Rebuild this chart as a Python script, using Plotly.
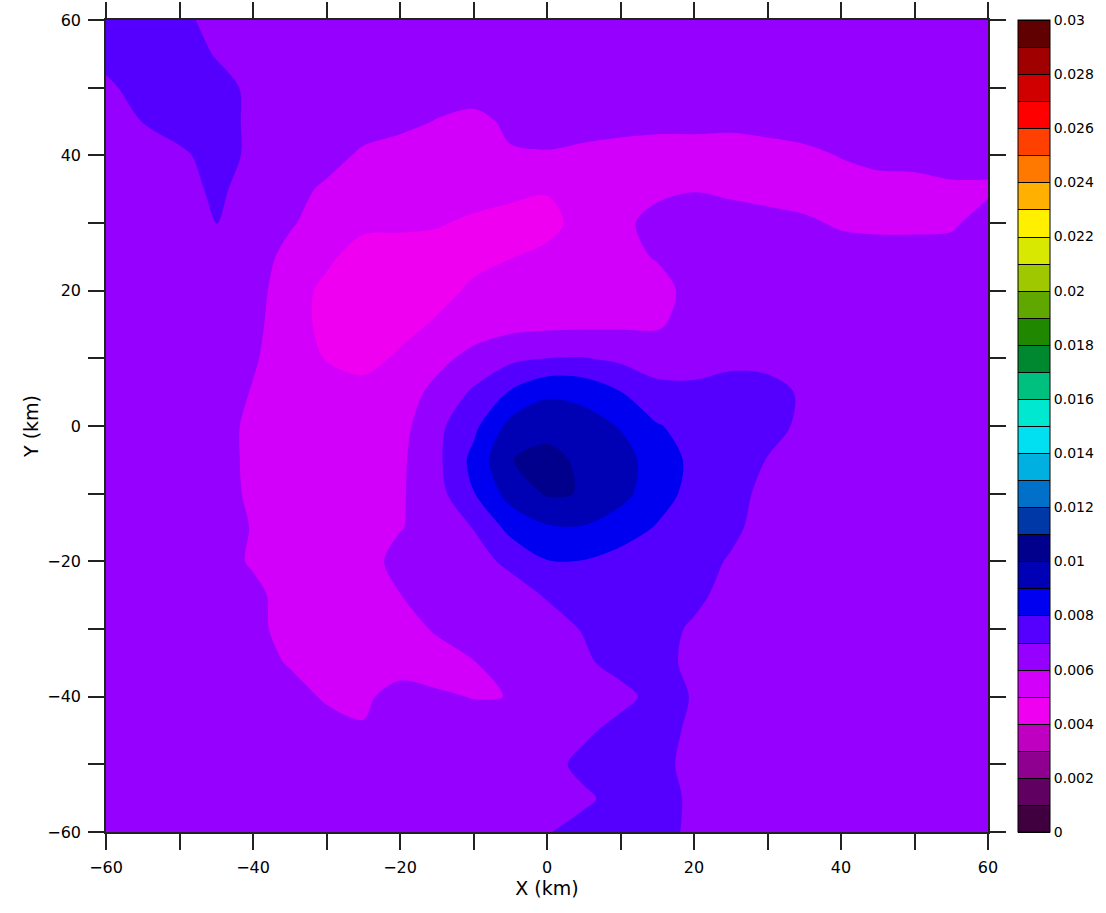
import numpy as np
import plotly.graph_objects as go

# grid coordinates (km)
x_km = list(range(-60, 65, 5))
y_km = list(range(60, -65, -5))          # rows listed top (60) to bottom (-60)

# field values, in units of 1e-4 (kg/kg)
rows = [
    [77, 77, 74, 65, 65, 65, 65, 65, 65, 65, 65, 65, 65, 65, 65, 65, 65, 65, 65, 65, 65, 65, 65, 65, 65],  # 60
    [75, 77, 77, 69, 65, 65, 65, 65, 65, 65, 65, 65, 65, 65, 65, 65, 65, 65, 65, 65, 65, 65, 65, 65, 65],  # 55
    [67, 76, 77, 75, 67, 65, 65, 65, 65, 65, 65, 65, 65, 65, 65, 65, 65, 65, 65, 65, 65, 65, 65, 65, 65],  # 50
    [65, 70.2, 77, 76, 67, 65, 65, 65, 63, 59.5, 57, 62, 65, 65, 64.5, 63, 63, 62.5, 64.5, 65, 65, 65, 65, 65, 65],  # 45
    [65, 65, 67, 76, 67, 65, 64.5, 58, 55, 55, 56.5, 59, 59, 57, 55, 55, 55, 55, 55, 57.5, 60.5, 64, 65, 65, 65],  # 40
    [65, 65, 65, 72.5, 65, 64, 58, 55, 55, 55, 55, 53.6, 51, 54.5, 55, 57.4, 59.5, 57.8, 55, 55, 55, 55, 55, 58, 58],  # 35
    [65, 65, 65, 70.5, 65, 61.2, 55, 52.6, 52, 51, 48, 45, 45.8, 55, 57.2, 64, 65, 65, 64.8, 61.8, 58.6, 57.4, 57.4, 58.2, 65],  # 30
    [65, 65, 65, 65, 65, 56.8, 52.2, 45, 45, 45, 46, 49.6, 53.2, 55, 56, 61, 65, 65, 65, 65, 65, 65, 65, 65, 65],  # 25
    [65, 65, 65, 65, 63.4, 55, 47.4, 45, 45, 45, 52.6, 55, 55, 55, 55, 55, 64.8, 65, 65, 65, 65, 65, 65, 65, 65],  # 20
    [65, 65, 65, 65, 62.2, 55, 47, 45, 45, 51.9, 55, 57, 57.8, 58.2, 58.6, 58.8, 64, 65, 65, 65, 65, 65, 65, 65, 65],  # 15
    [65, 65, 65, 65, 61, 55, 49.5, 45, 52.3, 57.1, 63, 67.8, 70, 70.4, 68, 66, 65, 66.6, 65.6, 65, 65, 65, 65, 65, 65],  # 10
    [65, 65, 65, 65, 59.4, 55, 55, 55, 55, 62.8, 71.4, 80.8, 88.5, 87.2, 80.3, 72.6, 72.8, 75.5, 75, 68, 65, 65, 65, 65, 65],  # 5
    [65, 65, 65, 65, 57.2, 55, 55, 55, 56.6, 67.5, 77.5, 93.1, 95.9, 93.8, 89.4, 80.7, 76.5, 75, 75, 67, 65, 65, 65, 65, 65],  # 0
    [65, 65, 65, 65, 57.2, 55, 55, 55, 58.2, 67.6, 82.8, 99.6, 103.6, 97.5, 93.8, 85.5, 77.6, 75, 69.6, 65, 65, 65, 65, 65, 65],  # -5
    [65, 65, 65, 65, 57.8, 55, 55, 55, 58.8, 66.2, 79.6, 93.8, 101, 99.6, 92.8, 84.7, 76.4, 75, 66.2, 65, 65, 65, 65, 65, 65],  # -10
    [65, 65, 65, 65, 59.4, 55, 55, 55, 59.4, 65, 70.3, 83, 88.9, 89.3, 85.5, 79.2, 75, 72.8, 65, 65, 65, 65, 65, 65, 65],  # -15
    [65, 65, 65, 65, 58.6, 55, 55, 55, 63.8, 65, 66, 72.4, 79.6, 79.6, 76, 75, 75, 68.8, 65, 65, 65, 65, 65, 65, 65],  # -20
    [65, 65, 65, 65, 63, 55, 55, 55, 59.8, 64.4, 65, 65, 71, 75, 75, 75, 73.4, 65, 65, 65, 65, 65, 65, 65, 65],  # -25
    [65, 65, 65, 65, 63.8, 55, 55, 55, 55.2, 61.3, 65, 65, 65, 70.8, 75, 75, 68, 65, 65, 65, 65, 65, 65, 65, 65],  # -30
    [65, 65, 65, 65, 65, 59, 55, 58.2, 55, 55, 59.6, 64, 65, 67.6, 75, 75, 66.2, 65, 65, 65, 65, 65, 65, 65, 65],  # -35
    [65, 65, 65, 65, 65, 65, 58.4, 57.8, 64.6, 61.6, 59.6, 60.1, 65, 65, 65.5, 75, 69.2, 65, 65, 65, 65, 65, 65, 65, 65],  # -40
    [65, 65, 65, 65, 65, 65, 65, 61, 64.5, 65, 65, 65, 65, 67, 75, 75, 67.4, 65, 65, 65, 65, 65, 65, 65, 65],  # -45
    [65, 65, 65, 65, 65, 65, 65, 65, 65, 65, 65, 65, 64.6, 74.2, 75, 74.8, 65, 65, 65, 65, 65, 65, 65, 65, 65],  # -50
    [65, 65, 65, 65, 65, 65, 65, 65, 65, 65, 65, 65, 65, 67.4, 75, 75, 67.6, 65, 65, 65, 65, 65, 65, 65, 65],  # -55
    [65, 65, 65, 65, 65, 65, 65, 65, 65, 65, 65, 65, 69.2, 75, 75, 75, 67, 65, 65, 65, 65, 65, 65, 65, 65],  # -60
]

# contour levels in units of 1e-3 (0 .. 0.03 in steps of 0.001) and palette
level_start, level_end, level_step = 0, 30, 1
band_colors = [
    "#400040", "#600060", "#900090", "#c000c0", "#f000f0",
    "#d200fa", "#9600ff", "#5500ff", "#0000f0", "#0000b4",
    "#00008c", "#0038a8", "#0070c8", "#00b0e0", "#00e0f0",
    "#00e8d0", "#00c080", "#008830", "#208800", "#60a800",
    "#a0c800", "#d8e800", "#fff000", "#ffb000", "#ff7800",
    "#ff4000", "#ff0000", "#d00000", "#a00000", "#600000",
]
cbar_tickvals = [0, 2, 4, 6, 8, 10, 12, 14, 16, 18, 20, 22, 24, 26, 28, 30]
cbar_ticktext = ["0", "0.002", "0.004", "0.006", "0.008", "0.01", "0.012", "0.014",
                 "0.016", "0.018", "0.02", "0.022", "0.024", "0.026", "0.028", "0.03"]
axis_tickvals = list(range(-60, 70, 10))
axis_ticktext = ["\u221260", "", "\u221240", "", "\u221220", "", "0", "", "20", "", "40", "", "60"]

# stepped colour scale: one flat segment per band
n = len(band_colors)
cs = []
for k, c in enumerate(band_colors):
    cs.append([k / n, c])
    cs.append([(k + 1) / n, c])

z = np.array(rows[::-1]) / 10.0          # -> units of 1e-3
y_asc = y_km[::-1]

contours = dict(start=level_start, end=level_end, size=level_step, coloring="fill")

fig = go.Figure()
fig.add_trace(go.Contour(
    x=x_km, y=y_asc, z=z, autocontour=False, zmin=0, zmax=30,
    contours=dict(contours, showlines=False),
    colorscale=cs, showscale=False, line=dict(smoothing=0.9, width=0),
    hoverinfo="skip",
))
# colour bar carrier (lies outside the visible axis range)
fig.add_trace(go.Contour(
    x=[200, 201], y=[200, 201], z=[[0, 30], [30, 0]], autocontour=False,
    zmin=0, zmax=30,
    contours=dict(contours, showlines=True),
    colorscale=cs, line=dict(color="black", width=1),
    showscale=True, hoverinfo="skip",
    colorbar=dict(
        x=1 + 30 / 882, xanchor="left", y=0.5, yanchor="middle",
        len=1, lenmode="fraction", thickness=32, xpad=0, ypad=0,
        outlinewidth=1, outlinecolor="black",
        tickvals=cbar_tickvals, ticktext=cbar_ticktext, ticks="",
        tickfont=dict(family="DejaVu Sans", size=14, color="black"),
        ticklabelposition="outside",
    ),
))

axis_common = dict(
    tickvals=axis_tickvals, ticktext=axis_ticktext,
    ticks="outside", ticklen=16, tickwidth=1.5, tickcolor="#222",
    showline=True, linecolor="#222", linewidth=1.5, mirror="ticks",
    showgrid=False, zeroline=False,
    tickfont=dict(family="DejaVu Sans", size=16, color="black"),
    ticklabelstandoff=4,
)
fig.update_xaxes(range=[-60, 60], title=dict(text="X (km)", font=dict(family="DejaVu Sans", size=19, color="black"), standoff=6), **axis_common)
fig.update_yaxes(range=[-60, 60], title=dict(text="Y (km)", font=dict(family="DejaVu Sans", size=19, color="black"), standoff=4), **axis_common)

fig.update_layout(
    width=1106, height=913,
    margin=dict(l=106, r=118, t=20, b=81, autoexpand=False),
    paper_bgcolor="white", plot_bgcolor="white",
    showlegend=False,
)
fig.write_html("out.html")
